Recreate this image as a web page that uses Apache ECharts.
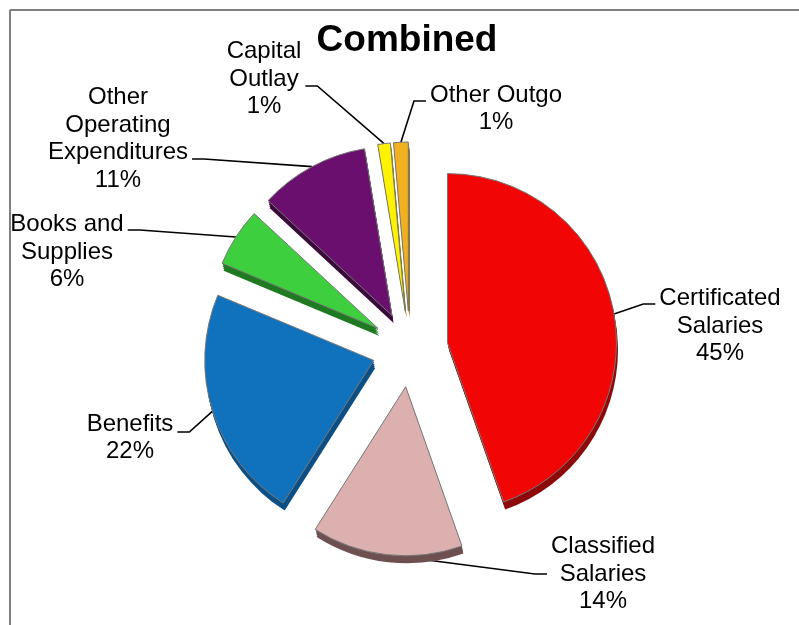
<!DOCTYPE html>
<html>
<head>
<meta charset="utf-8">
<style>html,body{margin:0;padding:0;background:#fff}#c{width:799px;height:625px}</style>
<script src="https://cdn.jsdelivr.net/npm/echarts@6/dist/echarts.min.js"></script>
</head>
<body>
<div id="c"></div>
<script>
const titleText = 'Combined';
const categories = ['Certificated\nSalaries','Classified\nSalaries','Benefits','Books and\nSupplies','Other\nOperating\nExpenditures','Capital\nOutlay','Other Outgo'];
const shares = [44.6,14.4,22.3,5.6,10.5,1.2,1.4];
const faceColors = ['#F20505','#DBB0AE','#1071BC','#3ECF3E','#6A0F6E','#FFF200','#F0B020'];
const sideColors = ['#8E0A0A','#6E5050','#0B4F85','#1F7A22','#3A0A3C','#8A8300','#8A6510'];
// centre of each label's text, and how far its leader attaches above (+) or below (-) that centre
const labelSpots = [[720,326],[603,574],[130,438],[67,252],[118,139],[264,79],[496,109]];
const leaderRaise = [22,0,6,22,-20,-7,8];
const CENTER = [410,349], RADIUS = 169, EXPLODE = 38, FONT = 'Liberation Sans, Arial, sans-serif', LINE_H = 27.5;
const SIDE_STEPS = [1,0.75,0.5,0.25], SIDE_DX = 1.5, SIDE_DY = 7.5;

const chart = echarts.init(document.getElementById('c'), null, {renderer:'canvas'});
const base = {
  type:'pie', startAngle:90, clockwise:true, minAngle:0, avoidLabelOverlap:false,
  animation:false, silent:true, percentPrecision:0
};
const exploded = {radius:[0,RADIUS], selectedMode:'multiple', selectedOffset:EXPLODE, label:{show:false}, labelLine:{show:false}};
const sideLayers = SIDE_STEPS.map(t => Object.assign({}, base, exploded, {
  center:[CENTER[0]+SIDE_DX*t,CENTER[1]+SIDE_DY*t],
  data:categories.map((n,i)=>({name:n,value:shares[i],selected:true,itemStyle:{color:sideColors[i],borderWidth:0}}))
}));
const face = Object.assign({}, base, exploded, {
  center:CENTER,
  data:categories.map((n,i)=>({name:n,value:shares[i],selected:true,itemStyle:{color:faceColors[i],borderColor:'#777',borderWidth:1}}))
});
const textHeight = i => (categories[i].split('\n').length + 1) * LINE_H;
// labels hang on an unexploded ring whose rim coincides with the exploded slices' rim
const labelRing = Object.assign({}, base, {
  center:CENTER, radius:[0,RADIUS+EXPLODE], selectedMode:false,
  label:{show:true,position:'outside',color:'#000',fontFamily:FONT,fontSize:24,lineHeight:LINE_H,align:'center',verticalAlign:'top',
    formatter:p=>p.name+'\n'+Math.round(p.value)+'%'},
  labelLine:{show:true,length:20,length2:12,lineStyle:{color:'#000',width:1.6}},
  labelLayout:p=>{
    const i = p.dataIndex, k = leaderRaise[i];
    return {x:labelSpots[i][0], y:labelSpots[i][1]-textHeight(i)/2-(k>0?2*k:0), align:'center', verticalAlign:'top'};
  },
  data:categories.map((n,i)=>{
    const k = leaderRaise[i];
    return {name:n,value:shares[i],itemStyle:{color:'rgba(0,0,0,0)',borderWidth:0},
      label:{backgroundColor:'rgba(255,255,255,0)',padding:[k>0?2*k:0,4,k<0?-2*k:0,4]}};
  })
});
chart.setOption({
  backgroundColor:'#fff', animation:false,
  title:{text:titleText,left:402,top:17,textAlign:'center',textStyle:{fontFamily:FONT,fontSize:37,fontWeight:'bold',color:'#000'}},
  graphic:[
    {type:'line',shape:{x1:10,y1:10,x2:799,y2:10},style:{stroke:'#808080',lineWidth:2},silent:true},
    {type:'line',shape:{x1:10,y1:10,x2:10,y2:625},style:{stroke:'#808080',lineWidth:2},silent:true}
  ],
  series:[...sideLayers,face,labelRing]
});
</script>
</body>
</html>
